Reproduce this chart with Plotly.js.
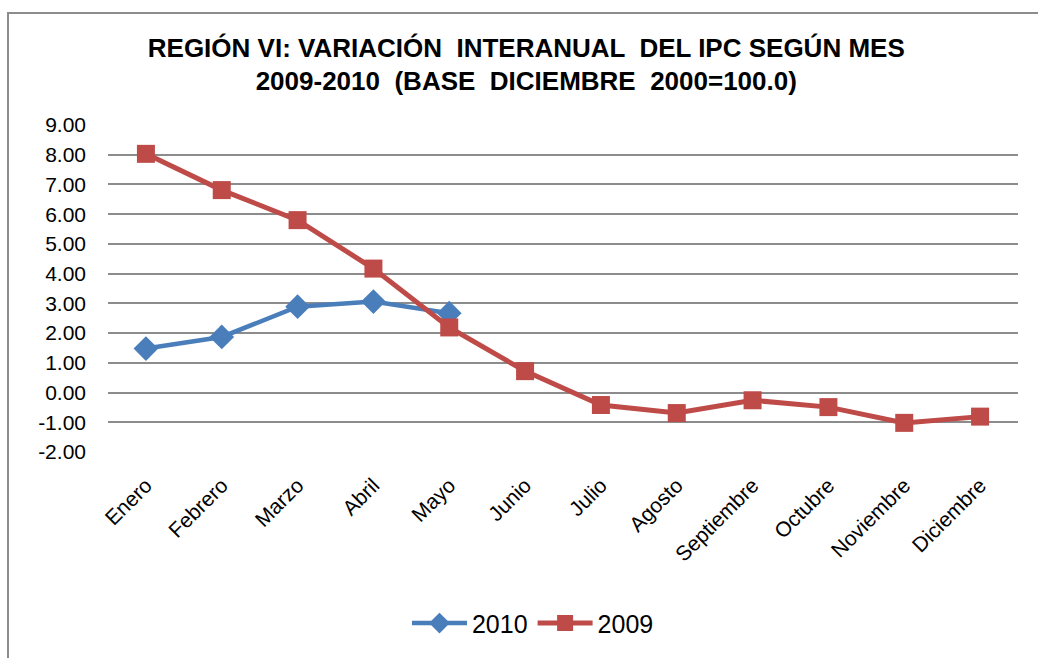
<!DOCTYPE html>
<html>
<head>
<meta charset="utf-8">
<script src="https://cdn.plot.ly/plotly-3.0.1.min.js"></script>
<style>html,body{margin:0;padding:0;background:#fff;}#chart{width:1038px;height:658px;}</style>
</head>
<body>
<div id="chart"></div>
<script>
const months = ["Enero","Febrero","Marzo","Abril","Mayo","Junio","Julio","Agosto","Septiembre","Octubre","Noviembre","Diciembre"];
const months2010 = ["Enero","Febrero","Marzo","Abril","Mayo"];
const values2010 = [1.48, 1.87, 2.89, 3.06, 2.67];
const values2009 = [8.03, 6.81, 5.80, 4.17, 2.19, 0.72, -0.42, -0.69, -0.26, -0.49, -1.02, -0.81];
const yTickVals = [-2,-1,0,1,2,3,4,5,6,7,8,9];
const yTickText = yTickVals.map(v => v.toFixed(2));

const traces = [
  {x: months2010, y: values2010, name: "2010", type: "scatter", mode: "lines+markers",
   line: {color: "#4A7EBB", width: 4.5}, marker: {symbol: "diamond", size: 19, color: "#4A7EBB"}},
  {x: months, y: values2009, name: "2009", type: "scatter", mode: "lines+markers",
   line: {color: "#BE4B48", width: 5}, marker: {symbol: "square", size: 18, color: "#BE4B48"}}
];

const layout = {
  width: 1038, height: 658,
  margin: {l: 108, r: 20, t: 125, b: 203},
  paper_bgcolor: "#fff", plot_bgcolor: "#fff",
  font: {family: "Liberation Sans, Arial, sans-serif", color: "#000"},
  title: {text: "REGIÓN VI: VARIACIÓN  INTERANUAL  DEL IPC SEGÚN MES<br>2009-2010  (BASE  DICIEMBRE  2000=100.0)",
          font: {size: 26, family: "Liberation Sans, Arial, sans-serif", weight: "bold", color: "#000"},
          x: 0.507, xanchor: "center", y: 0.914, yanchor: "middle", xref: "container", yref: "container"},
  xaxis: {type: "category", categoryorder: "array", categoryarray: months, range: [-0.5, 11.5],
          tickangle: -45, tickfont: {size: 21}, showgrid: false, zeroline: false, showline: false,
          ticks: "", ticklabelstandoff: 16},
  yaxis: {range: [-2, 9], tickmode: "array", tickvals: yTickVals, ticktext: yTickText, tickfont: {size: 21},
          showgrid: true, gridcolor: "#8C8C8C", gridwidth: 2, zeroline: false, showline: false,
          ticks: "", ticklabelstandoff: 21},
  legend: {orientation: "h", x: 0.467, xanchor: "center", y: -0.524, yanchor: "middle",
           font: {size: 25}, itemwidth: 55, traceorder: "normal"},
  shapes: [
    {type: "rect", xref: "paper", yref: "paper", x0: -0.1099, x1: 1.1, y0: -0.8, y1: 1.3425,
     line: {color: "#8C8C8C", width: 2}, fillcolor: "rgba(0,0,0,0)", layer: "below"}
  ],
  showlegend: true
};

Plotly.newPlot("chart", traces, layout, {displayModeBar: false, staticPlot: true});
</script>
</body>
</html>
